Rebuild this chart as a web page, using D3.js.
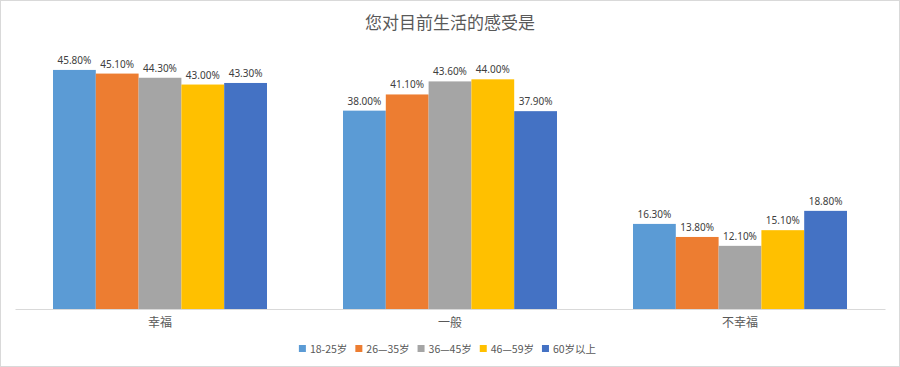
<!DOCTYPE html>
<html><head><meta charset="utf-8">
<script src="https://cdn.jsdelivr.net/npm/d3@7"></script>
<style>html,body{margin:0;padding:0;background:#fff;}svg{display:block;}</style>
</head><body>
<svg id="c" width="900" height="367"></svg>
<script>
const categories = ["幸福", "一般", "不幸福"];
const seriesNames = ["18-25岁", "26—35岁", "36—45岁", "46—59岁", "60岁以上"];
const s1825 = [45.8, 38.0, 16.3];
const s2635 = [45.1, 41.1, 13.8];
const s3645 = [44.3, 43.6, 12.1];
const s4659 = [43.0, 44.0, 15.1];
const s60 = [43.3, 37.9, 18.8];
const seriesValues = [s1825, s2635, s3645, s4659, s60];
const colors = ["#5B9BD5", "#ED7D31", "#A5A5A5", "#FFC000", "#4472C4"];
const title = "您对目前生活的感受是";

const svg = d3.select("#c");
const W = 900, H = 367;
svg.append("rect").attr("x",0.5).attr("y",0.5).attr("width",W-1).attr("height",H-1)
  .attr("fill","#fff").attr("stroke","#d9d9d9");

const left = 15, right = 885, baseY = 309;
const x0 = d3.scaleBand().domain(categories).range([left, right]).paddingInner(0).paddingOuter(0);
const groupW = 214;
const x1 = d3.scaleBand().domain(seriesNames).range([0, groupW]).padding(0);
const y = d3.scaleLinear().domain([0, 50]).range([baseY, 48]);

svg.append("text").attr("x", 450).attr("y", 29).attr("text-anchor","middle")
  .attr("font-family","'Noto Sans CJK SC', sans-serif").attr("font-size",17)
  .attr("fill","#595959").text(title);

const g = svg.append("g");
categories.forEach((c, ci) => {
  const gx = x0(c) + (x0.bandwidth() - groupW) / 2;
  seriesNames.forEach((s, si) => {
    const v = seriesValues[si][ci];
    const bx = gx + x1(s);
    g.append("rect").attr("x", bx).attr("y", y(v)).attr("width", x1.bandwidth())
      .attr("height", baseY - y(v)).attr("fill", colors[si]);
    g.append("text").attr("x", bx + x1.bandwidth()/2).attr("y", y(v) - 6)
      .attr("text-anchor","middle").attr("font-family","'Noto Sans', sans-serif")
      .attr("font-size",10).attr("fill","#404040").text(v.toFixed(2) + "%");
  });
});

const axis = d3.axisBottom(x0).tickSize(0).tickPadding(9);
const ax = svg.append("g").attr("transform", `translate(0,${baseY})`).call(axis);
ax.select(".domain").attr("stroke","#d9d9d9");
ax.selectAll("text").attr("font-family","'Noto Sans CJK SC', sans-serif")
  .attr("font-size",12).attr("fill","#595959");

// legend
const legend = svg.append("g");
let lx = 0;
seriesNames.forEach((s, i) => {
  legend.append("rect").attr("x", lx).attr("y", 345).attr("width", 7).attr("height", 7).attr("fill", colors[i]);
  const t = legend.append("text").attr("x", lx + 11).attr("y", 352.5)
    .attr("font-family","'Noto Sans CJK SC', sans-serif").attr("font-size",10.5)
    .attr("fill","#595959").text(s);
  lx += 11 + t.node().getComputedTextLength() + 8;
});
const totalW = lx - 8;
legend.attr("transform", `translate(${(307 + 588) / 2 - totalW / 2},0)`);
</script>
</body></html>
